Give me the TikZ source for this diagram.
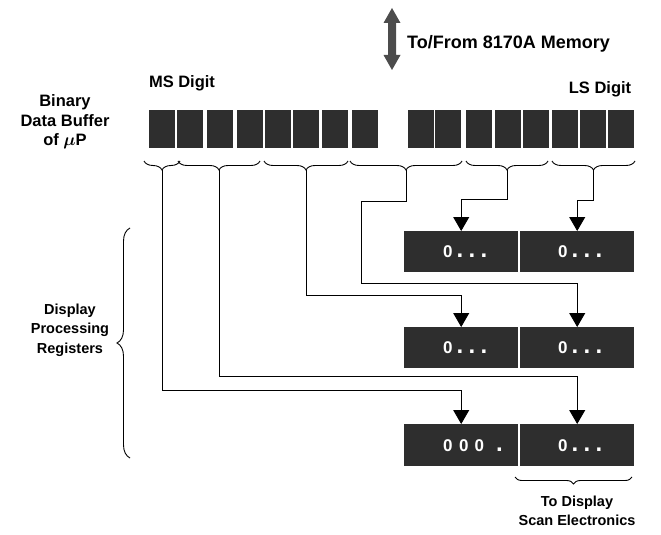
\documentclass[tikz,border=0pt]{standalone}
\usepackage{fontspec}
\setmainfont{Liberation Sans}
\usetikzlibrary{decorations.pathreplacing,arrows.meta,calc}
\newcommand\bigdot{{\fontsize{24}{24}\selectfont .}}
\begin{document}
\begin{tikzpicture}[x=1pt,y=-1pt,
  lbl/.style={font=\bfseries\fontsize{14.5}{19.5}\selectfont, align=center, inner sep=0},
  toplbl/.style={font=\bfseries\fontsize{16.5}{19.5}\selectfont, align=center, inner sep=0},
  cell/.style={fill=black!82, draw=none, minimum width=26pt, minimum height=38pt, inner sep=0, anchor=north west},
  reg/.style={fill=black!82, draw=none, minimum width=114pt, minimum height=41pt, inner sep=0, anchor=north west},
  regtext/.style={text=white, font=\bfseries\fontsize{17}{20}\selectfont, anchor=west, inner sep=0},
  conn/.style={line width=0.8pt},
  tip/.style={-{Triangle[width=16pt,length=14pt]}},
  brc/.style={decorate, decoration={brace, amplitude=9pt, mirror}, line width=0.9pt},
  ]
\useasboundingbox (0,0) rectangle (661,535);

% memory arrow
\fill[black!70] (392,8) -- (400.5,23) -- (396,23) -- (396,55) -- (400.5,55)
  -- (392,70) -- (383.5,55) -- (388,55) -- (388,23) -- (383.5,23) -- cycle;
\node[toplbl, font=\bfseries\fontsize{18}{20}\selectfont, anchor=west] (mem) at (407,44) {To/From 8170A Memory};

\node[toplbl] (ms) at (182,83) {MS Digit};
\node[toplbl] (ls) at (600,89) {LS Digit};
\node[toplbl] (buf) at (65,122) {Binary\\Data Buffer\\of {\boldmath$\mu$}P};

% buffer cells
\foreach \x [count=\i] in {149,177,207,237,265,293,322,352,408,435,466,495,523,552,580,608}
  \node[cell] (c\i) at (\x,110) {};

% braces under the buffer
\draw[brc] (144,161) -- (180,161);
\draw[brc] (178,161) -- (260,161);
\draw[brc] (264,161) -- (348,161);
\draw[brc] (350,161) -- (462,161);
\draw[brc] (466,161) -- (548,161);
\draw[brc] (552,161) -- (635,161);
\coordinate (b1) at (162,170);
\coordinate (b2) at (219,170);
\coordinate (b3) at (306,170);
\coordinate (b4) at (406,170);
\coordinate (b5) at (507,170);
\coordinate (b6) at (593.5,170);

% registers
\node[reg] (r11) at (404,231) {};
\node[reg] (r12) at (520,231) {};
\node[reg] (r21) at (404,327) {};
\node[reg] (r22) at (520,327) {};
\node[reg, minimum height=42pt] (r31) at (404,424) {};
\node[reg, minimum height=42pt] (r32) at (520,424) {};

\node[regtext] (t11) at ($(r11.west)+(39,0)$) {0\hspace{4pt}\bigdot\hspace{5.3pt}\bigdot\hspace{5.3pt}\bigdot};
\node[regtext] (t12) at ($(r12.west)+(38,0)$) {0\hspace{4pt}\bigdot\hspace{5.3pt}\bigdot\hspace{5.3pt}\bigdot};
\node[regtext] (t21) at ($(r21.west)+(39,0)$) {0\hspace{4pt}\bigdot\hspace{5.3pt}\bigdot\hspace{5.3pt}\bigdot};
\node[regtext] (t22) at ($(r22.west)+(38,0)$) {0\hspace{4pt}\bigdot\hspace{5.3pt}\bigdot\hspace{5.3pt}\bigdot};
\node[regtext] (t31) at ($(r31.west)+(39,0)$) {0\hspace{6.5pt}0\hspace{6pt}0\hspace{12pt}\bigdot};
\node[regtext] (t32) at ($(r32.west)+(38,0)$) {0\hspace{4pt}\bigdot\hspace{5.3pt}\bigdot\hspace{5.3pt}\bigdot};

% turning points
\coordinate (h1) at (0,390);
\coordinate (h2) at (0,376);
\coordinate (h3) at (0,295);
\coordinate (h4) at (0,201);
\coordinate (v4) at (361,283);
\coordinate (h5) at (0,199);
\coordinate (h6) at (0,200);

% connectors
\draw[conn, tip] (b1) -- (b1 |- h1) -| (r31.north);
\draw[conn, tip] (b2) -- (b2 |- h2) -| (r32.north);
\draw[conn, tip] (b3) -- (b3 |- h3) -| (r21.north);
\draw[conn, tip] (b4) -- (b4 |- h4) -| (v4) -| (r22.north);
\draw[conn, tip] (b5) -- (b5 |- h5) -| (r11.north);
\draw[conn, tip] (b6) -- (b6 |- h6) -| (r12.north);

% left brace and label
\draw[decorate, decoration={brace, amplitude=13pt}, line width=0.9pt] (130,458) -- (130,228);
\node[lbl] (dpr) at (70,330) {Display\\Processing\\Registers};

% bottom brace and label
\draw[brc, decoration={amplitude=7pt}] (515,477) -- (632,477);
\node[lbl] (scan) at (577,511) {To Display\\Scan Electronics};
\end{tikzpicture}
\end{document}
